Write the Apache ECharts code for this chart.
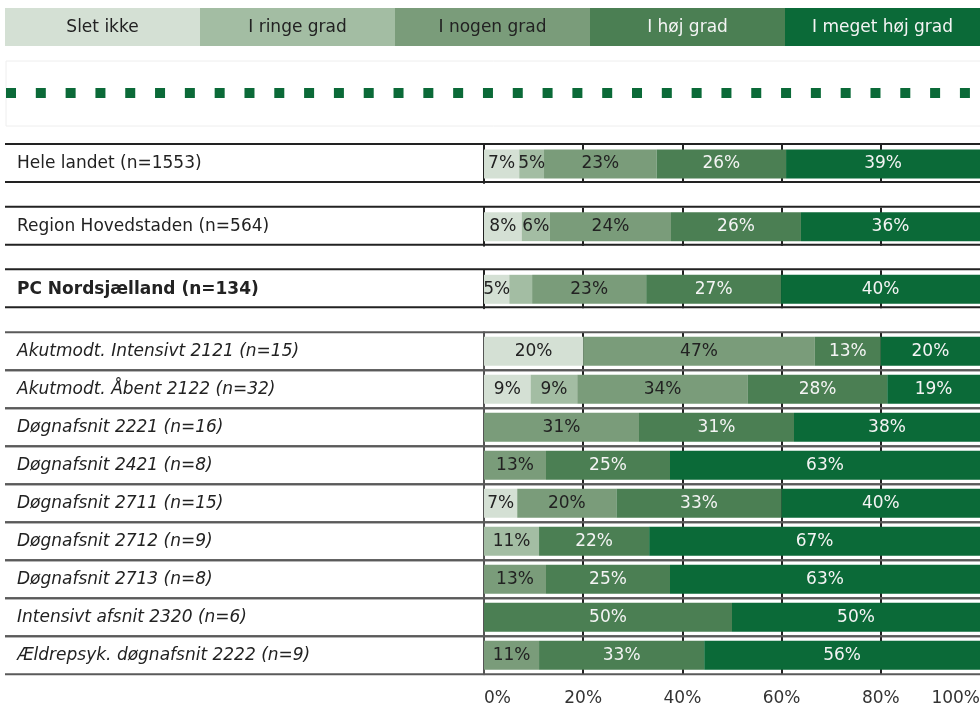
<!DOCTYPE html>
<html>
<head>
<meta charset="utf-8">
<script src="https://cdn.jsdelivr.net/npm/echarts@6/dist/echarts.min.js"></script>
<style>
    html, body { margin: 0; padding: 0; background: #fff; }
    #main { width: 980px; height: 706px; }
</style>
</head>
<body>
<div id="main"></div>
<script>
// svarkategorier og farver
var kategorier = ['Slet ikke', 'I ringe grad', 'I nogen grad', 'I høj grad', 'I meget høj grad'];
var farver = ['#d4e0d4', '#a3bda3', '#7a9c7a', '#4b7f53', '#0b6a38'];

var raekker = [
    'Hele landet (n=1553)',
    'Region Hovedstaden (n=564)',
    'PC Nordsjælland (n=134)',
    'Akutmodt. Intensivt 2121 (n=15)',
    'Akutmodt. Åbent 2122 (n=32)',
    'Døgnafsnit 2221 (n=16)',
    'Døgnafsnit 2421 (n=8)',
    'Døgnafsnit 2711 (n=15)',
    'Døgnafsnit 2712 (n=9)',
    'Døgnafsnit 2713 (n=8)',
    'Intensivt afsnit 2320 (n=6)',
    'Ældrepsyk. døgnafsnit 2222 (n=9)'
];

// procenter pr. række (aflæst, vises afrundet)
var sletIkke       = [7.1, 7.6, 5.1, 20, 9.4, 0, 0, 6.7, 0, 0, 0, 0];
var iRingeGrad     = [5.0, 5.7, 4.6, 0, 9.4, 0, 0, 0, 11.1, 0, 0, 0];
var iNogenGrad     = [22.7, 24.4, 23.0, 46.7, 34.4, 31.25, 12.5, 20, 0, 12.5, 0, 11.1];
var iHoejGrad      = [26.1, 26.2, 27.2, 13.3, 28.1, 31.25, 25, 33.3, 22.2, 25, 50, 33.3];
var iMegetHoejGrad = [39.1, 36.1, 40.1, 20, 18.75, 37.5, 62.5, 40, 66.7, 62.5, 50, 55.6];
var serier = [sletIkke, iRingeGrad, iNogenGrad, iHoejGrad, iMegetHoejGrad];

var akseEtiketter = ['0%', '20%', '40%', '60%', '80%', '100%'];

// etiketter der ikke vises i originalen (række-serie)
var skjulteEtiketter = ['2-1'];

(function () {
    var FONT = '"DejaVu Sans", Verdana, sans-serif';
    var PLOT_LEFT = 484;
    var ROW_H = 38;
    var antalTop = 3;
    var fremhaevet = 2;

    var rowTop = function (i) {
        if (i < antalTop) return 144 + i * 62.65;
        return 332.3 + (i - antalTop) * ROW_H;
    };

    var grids = [], xAxes = [], yAxes = [], series = [], graphics = [];

    raekker.forEach(function (navn, r) {
        var top = rowTop(r);
        var last = r === raekker.length - 1;
        grids.push({
            left: PLOT_LEFT, right: 0, top: r < antalTop ? top + 1 : top, height: ROW_H,
            containLabel: false, outerBoundsMode: 'none'
        });
        xAxes.push({
            type: 'value', gridIndex: r, min: 0, max: 100, interval: 20,
            axisLine: { show: false }, axisTick: { show: false },
            splitLine: { show: true, showMinLine: false, showMaxLine: false, lineStyle: { color: '#222', width: 2 } },
            axisLabel: {
                show: last, margin: 16, fontSize: 17, fontFamily: FONT, color: '#333',
                alignMinLabel: 'left', alignMaxLabel: 'right',
                formatter: function (v) { return akseEtiketter[Math.round(v / 20)]; }
            }
        });
        yAxes.push({
            type: 'category', gridIndex: r, data: [navn],
            axisLine: { show: true, lineStyle: { color: r < antalTop ? '#222' : '#555', width: 2 } },
            axisTick: { show: false }, splitLine: { show: false },
            axisLabel: {
                align: 'left', margin: PLOT_LEFT - 17, fontSize: 17, fontFamily: FONT, color: '#222',
                padding: [8, 0, 0, 0],
                fontWeight: r === fremhaevet ? 'bold' : 'normal',
                fontStyle: r > fremhaevet ? 'italic' : 'normal'
            }
        });
        serier.forEach(function (arr, s) {
            var skjul = skjulteEtiketter.indexOf(r + '-' + s) >= 0;
            series.push({
                name: kategorier[s], type: 'bar', stack: 'r' + r,
                xAxisIndex: r, yAxisIndex: r, barWidth: 29,
                itemStyle: { color: farver[s] },
                data: [arr[r]],
                silent: true,
                label: {
                    show: !skjul && arr[r] > 0, position: 'inside',
                    fontSize: 17, fontFamily: FONT, padding: [8, 0, 0, 0],
                    color: s < 3 ? '#222' : '#f4f4f4',
                    formatter: function (p) { return Math.round(p.value) + '%'; }
                }
            });
        });
        // linjer over og under rækken
        var farve = r < antalTop ? '#222' : '#5a5a5a';
        [top, top + ROW_H].forEach(function (y) {
            graphics.push({
                type: 'line', silent: true, z: 50,
                shape: { x1: 5, y1: y, x2: 980, y2: y },
                style: { stroke: farve, lineWidth: 2 }
            });
        });
    });

    // forklaring som farvede felter
    var bw = (980 - 5) / kategorier.length;
    kategorier.forEach(function (k, i) {
        graphics.push({
            type: 'rect', silent: true,
            shape: { x: 5 + i * bw, y: 8, width: bw + 0.5, height: 38 },
            style: { fill: farver[i] }
        });
        graphics.push({
            type: 'text', silent: true, x: 5 + i * bw + bw / 2, y: 28,
            style: {
                text: k, fill: i < 3 ? '#222' : '#f4f4f4',
                font: '17px ' + FONT, align: 'center', verticalAlign: 'middle'
            }
        });
    });

    // prikket linje i ramme
    graphics.push({
        type: 'rect', silent: true,
        shape: { x: 6, y: 61, width: 980, height: 65 },
        style: { fill: 'none', stroke: '#eee', lineWidth: 1 }
    });
    graphics.push({
        type: 'line', silent: true,
        shape: { x1: 6, y1: 93, x2: 970, y2: 93 },
        style: { stroke: '#0b6a38', lineWidth: 10, lineDash: [10, 19.81] }
    });

    var chart = echarts.init(document.getElementById('main'));
    chart.setOption({
        backgroundColor: '#fff',
        animation: false,
        grid: grids,
        xAxis: xAxes,
        yAxis: yAxes,
        series: series,
        graphic: graphics
    });
})();
</script>
</body>
</html>
